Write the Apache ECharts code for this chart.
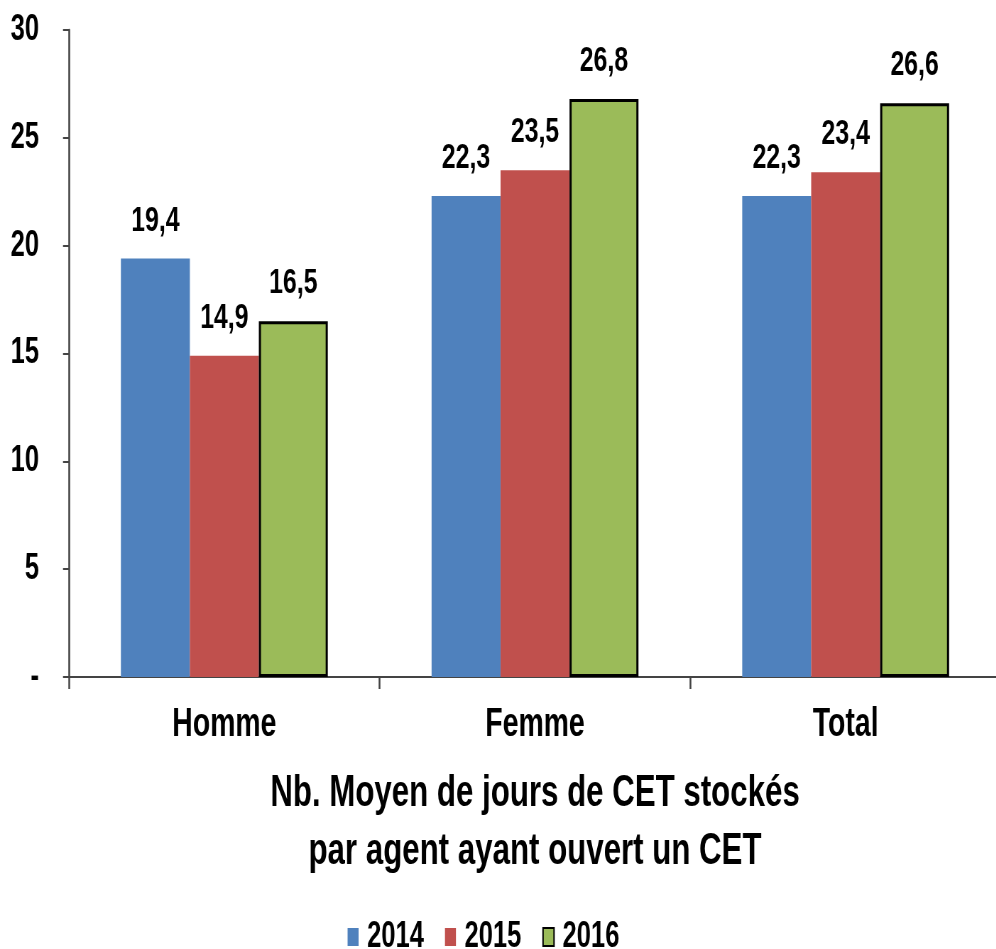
<!DOCTYPE html>
<html>
<head>
<meta charset="utf-8">
<script src="https://cdn.jsdelivr.net/npm/echarts@6/dist/echarts.min.js"></script>
<style>
  html, body { margin: 0; padding: 0; background: #fff; overflow: hidden; }
  /* chart is drawn wide and squeezed horizontally to mimic the narrow bold font */
  #main { width: 1410px; height: 949px; transform: scaleX(0.71); transform-origin: 0 0; }
</style>
</head>
<body>
<div id="main"></div>
<script>
var categories = ["Homme", "Femme", "Total"];
var years = ["2014", "2015", "2016"];
var values2014 = [19.4, 22.3, 22.3];
var values2015 = [14.9, 23.5, 23.4];
var values2016 = [16.5, 26.8, 26.6];
var yTicks = [0, 5, 10, 15, 20, 25, 30];

var k = 0.71; // horizontal squeeze
function sx(px) { return px / k; }

var font = "'Liberation Sans', Arial, sans-serif";

var chartDom = document.getElementById("main");
var myChart = echarts.init(chartDom);

function fmt(v) {
  return v.toFixed(1).replace(".", ",");
}

var labelStyle = {
  show: true,
  position: "top",
  distance: 20,
  color: "#000",
  fontFamily: font,
  fontWeight: "bold",
  fontSize: 35,
  formatter: function (p) { return fmt(p.value); }
};

var option = {
  animation: false,
  textStyle: { fontFamily: font },
  grid: { left: sx(69), width: sx(932), top: 30, height: 647, outerBoundsMode: "none", containLabel: false },
  legend: {
    left: sx(344),
    top: 914,
    itemWidth: sx(11),
    itemHeight: 18,
    itemGap: sx(21),
    icon: "rect",
    textStyle: { fontFamily: font, fontWeight: "bold", fontSize: 36, color: "#000", padding: [0, 0, 0, 7] },
    data: years
  },
  xAxis: {
    type: "category",
    data: categories,
    axisLine: { lineStyle: { color: "#444", width: 2 } },
    axisTick: { show: true, length: 12, lineStyle: { color: "#444", width: 2.5 } },
    axisLabel: { color: "#000", fontFamily: font, fontWeight: "bold", fontSize: 40, margin: 28 },
    name: "Nb. Moyen de jours de CET stockés\npar agent ayant ouvert un CET",
    nameLocation: "middle",
    nameGap: 88,
    nameTextStyle: { color: "#000", fontFamily: font, fontWeight: "bold", fontSize: 44, lineHeight: 58 }
  },
  yAxis: {
    type: "value",
    min: 0,
    max: 30,
    interval: 5,
    splitLine: { show: false },
    axisLine: { show: true, lineStyle: { color: "#444", width: 2.6 } },
    axisTick: { show: true, length: sx(6), lineStyle: { color: "#444", width: 2 } },
    axisLabel: {
      color: "#000",
      fontFamily: font,
      fontWeight: "bold",
      fontSize: 36,
      margin: sx(30),
      formatter: function (v) { return v === yTicks[0] ? "-" : String(v); }
    }
  },
  series: [
    {
      name: years[0],
      type: "bar",
      data: values2014,
      barGap: "0%",
      barCategoryGap: "33.4%",
      itemStyle: { color: "#4F81BD" },
      label: labelStyle
    },
    {
      name: years[1],
      type: "bar",
      data: values2015,
      barGap: "0%",
      barCategoryGap: "33.4%",
      itemStyle: { color: "#C0504D" },
      label: labelStyle
    },
    {
      name: years[2],
      type: "bar",
      data: values2016,
      barGap: "0%",
      barCategoryGap: "33.4%",
      itemStyle: { color: "#9BBB59", borderColor: "#000", borderWidth: 3 },
      label: labelStyle
    }
  ]
};

option && myChart.setOption(option);
</script>
</body>
</html>
